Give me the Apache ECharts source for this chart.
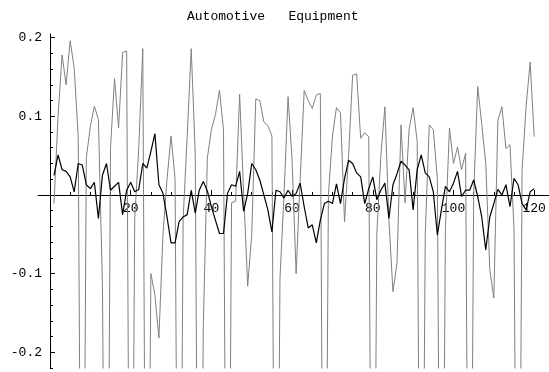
<!DOCTYPE html>
<html><head><meta charset="utf-8">
<script src="https://cdn.jsdelivr.net/npm/echarts@6/dist/echarts.min.js"></script>
<style>html,body{margin:0;padding:0;background:#fff}#c{width:549px;height:372px}</style>
</head><body><div id="c"></div>
<script>
const titleText = 'Automotive   Equipment';
const xLabelValues = [20, 40, 60, 80, 100, 120];
const xMinorTicks = [5,10,15,20,25,30,35,40,45,50,55,60,65,70,75,80,85,90,95,100,105,110,115,120];
const yLabelValues = [-0.2, -0.1, 0.1, 0.2];
const yMinorTicks = [-0.22,-0.2,-0.18,-0.16,-0.14,-0.12,-0.1,-0.08,-0.06,-0.04,-0.02,0.02,0.04,0.06,0.08,0.1,0.12,0.14,0.16,0.18,0.2];

const grayValues = [
 -0.011, 0.10, 0.178, 0.14, 0.196, 0.161, 0.074, -0.8, 0.047, 0.087,
 0.113, 0.096, -0.114, -0.8, 0.06, 0.148, 0.085, 0.181, 0.183, -0.8,
 -0.03, 0.06, 0.186, -0.8, -0.1, -0.127, -0.182, -0.05, 0.02, 0.075,
 0.02, -0.8, -0.03, 0.074, 0.186, 0.053, -0.8, -0.165, 0.047, 0.083,
 0.102, 0.133, 0.083, -0.8, -0.01, -0.008, 0.128, 0.002, -0.116, -0.05,
 0.122, 0.12, 0.093, 0.088, 0.075, -0.8, -0.106, 0.0, 0.125, 0.044,
 -0.1, 0.02, 0.133, 0.12, 0.11, 0.127, 0.129, -0.8, 0.0, 0.075,
 0.111, 0.104, -0.034, 0.05, 0.152, 0.154, 0.072, 0.079, 0.074, -0.8,
 -0.05, 0.05, 0.112, -0.032, -0.123, -0.087, 0.089, -0.01, 0.083, 0.111,
 0.068, -0.8, -0.05, 0.089, 0.083, 0.02, -0.8, -0.044, 0.085, 0.04,
 0.061, 0.032, 0.053, -0.8, 0.0, 0.138, 0.09, 0.04, -0.095, -0.131,
 0.095, 0.112, 0.059, 0.064, -0.044, -0.8, 0.032, 0.113, 0.169, 0.074
];
const blackValues = [
 0.025, 0.051, 0.032, 0.030, 0.023, 0.004, 0.040, 0.038, 0.013, 0.008,
 0.016, -0.030, 0.025, 0.040, 0.006, 0.011, 0.016, -0.025, 0.006, 0.016,
 0.004, 0.007, 0.040, 0.034, 0.055, 0.078, 0.013, 0.002, -0.028, -0.061,
 -0.061, -0.034, -0.028, -0.025, 0.006, -0.023, 0.006, 0.017, 0.005, -0.015,
 -0.032, -0.049, -0.049, 0.002, 0.013, 0.011, 0.030, -0.021, 0.002, 0.040,
 0.032, 0.019, 0.000, -0.019, -0.047, 0.006, 0.004, -0.004, 0.006, -0.002,
 0.002, 0.015, -0.015, -0.042, -0.038, -0.061, -0.032, -0.011, -0.008, -0.011,
 0.014, -0.011, 0.021, 0.044, 0.040, 0.028, 0.023, -0.011, 0.008, 0.023,
 -0.006, 0.006, 0.015, -0.030, 0.013, 0.027, 0.043, 0.038, 0.032, -0.019,
 0.032, 0.051, 0.028, 0.023, 0.004, -0.051, -0.019, 0.011, 0.004, 0.015,
 0.030, -0.002, 0.006, 0.006, 0.019, -0.002, -0.028, -0.070, -0.028, -0.011,
 0.007, 0.000, 0.013, -0.015, 0.021, 0.013, -0.011, -0.019, 0.004, 0.008
];

const FONT = '"Liberation Mono", "DejaVu Sans Mono", monospace';
const X_MIN = -2.97, X_MAX = 123.67, Y_MIN = -0.22, Y_MAX = 0.2046;
const GRID = {left: 38, right: 0, top: 34, bottom: 4};
const H = 372, W = 549;
const gridH = H - GRID.top - GRID.bottom;
const gridW = W - GRID.left - GRID.right;
// axes sit on the zero lines of the opposite scale
const xAxisOffset = -(gridH * (0 - Y_MIN) / (Y_MAX - Y_MIN));
const yAxisOffset = -(gridW * (0 - X_MIN) / (X_MAX - X_MIN));

const chart = echarts.init(document.getElementById('c'), null, {renderer: 'canvas'});
const baseX = {
  type: 'value', min: X_MIN, max: X_MAX, position: 'bottom', offset: xAxisOffset,
  axisLine: {show: true, onZero: false, lineStyle: {color: '#000', width: 1}},
  splitLine: {show: false}
};
const baseY = {
  type: 'value', min: Y_MIN, max: Y_MAX, position: 'left', offset: yAxisOffset,
  axisLine: {show: true, onZero: false, lineStyle: {color: '#000', width: 1}},
  splitLine: {show: false}
};
chart.setOption({
  animation: false,
  backgroundColor: '#fff',
  title: {
    text: titleText, left: 182, top: 5,
    textStyle: {fontFamily: FONT, fontSize: 13, fontWeight: 'normal', color: '#000'}
  },
  grid: Object.assign({containLabel: false, outerBoundsMode: 'none'}, GRID),
  xAxis: [
    Object.assign({}, baseX, {
      axisTick: {show: true, inside: true, length: 3, customValues: xMinorTicks, lineStyle: {color: '#000'}},
      axisLabel: {show: true, customValues: xLabelValues, margin: 7, fontFamily: FONT, fontSize: 13, color: '#000'}
    }),
    Object.assign({}, baseX, {
      axisLine: {show: false, onZero: false},
      axisTick: {show: true, inside: true, length: 5, customValues: xLabelValues, lineStyle: {color: '#000'}},
      axisLabel: {show: false}
    })
  ],
  yAxis: [
    Object.assign({}, baseY, {
      axisTick: {show: true, inside: true, length: 3, customValues: yMinorTicks, lineStyle: {color: '#000'}},
      axisLabel: {show: true, customValues: yLabelValues, margin: 8, fontFamily: FONT, fontSize: 13, color: '#000',
        formatter: v => v.toFixed(1)}
    }),
    Object.assign({}, baseY, {
      axisLine: {show: false, onZero: false},
      axisTick: {show: true, inside: true, length: 5, customValues: yLabelValues, lineStyle: {color: '#000'}},
      axisLabel: {show: false}
    })
  ],
  series: [
    {
      type: 'line', xAxisIndex: 0, yAxisIndex: 0,
      data: grayValues.map((v, i) => [i + 1, v]),
      showSymbol: false, symbol: 'none', clip: true, silent: true, z: 2,
      lineStyle: {color: '#808080', width: 1}
    },
    {
      type: 'line', xAxisIndex: 0, yAxisIndex: 0,
      data: blackValues.map((v, i) => [i + 1, v]),
      showSymbol: false, symbol: 'none', clip: true, silent: true, z: 3,
      lineStyle: {color: '#000', width: 1.2}
    }
  ]
});
</script>
</body></html>
